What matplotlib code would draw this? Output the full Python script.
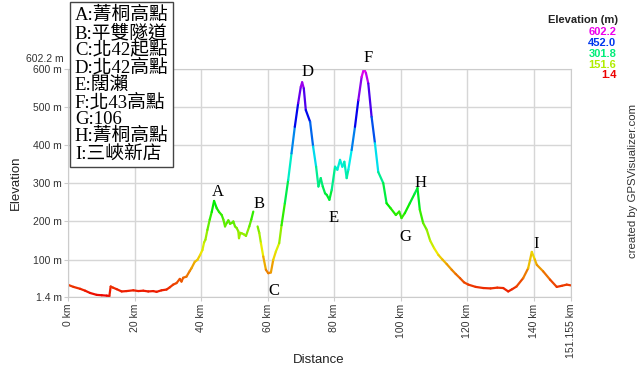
from pathlib import Path

import matplotlib.pyplot as plt
import numpy as np
from matplotlib.collections import LineCollection
from matplotlib.colors import ListedColormap, Normalize, hsv_to_rgb

# Perfil de elevación (km, m); el NaN marca el túnel sin datos.
dist_km = [
    0.0, 1.5, 3.5, 5.0, 6.5, 8.5, 10.0, 11.5, 12.3, 12.7, 13.4, 14.5, 16.0, 17.5,
    19.5, 21.0, 22.5, 24.0, 25.5, 26.5, 28.0, 29.5, 30.5, 31.5, 32.5, 33.5, 34.0,
    34.5, 35.5, 36.5, 37.0, 38.0, 38.8, 39.6, 40.3, 40.8, 41.2, 41.8, 42.5, 43.1,
    43.8, 44.6, 45.3, 46.1, 46.6, 47.1, 47.6, 48.1, 48.6, 49.1, 49.6, 50.1, 50.6,
    51.1, 51.3, 51.7, 52.1, 52.8, 53.4, 54.4, 55.0, 55.6, 56.2, 56.9, 57.4, 57.9,
    58.6, 59.4, 60.1, 60.9, 61.6, 62.4, 63.4, 64.1, 65.1, 66.1, 67.1, 68.1, 69.1,
    69.9, 70.3, 70.8, 71.4, 72.7, 73.6, 74.5, 75.2, 75.9, 76.5, 77.2, 77.7, 78.5,
    79.2, 80.2, 80.9, 81.7, 82.4, 83.0, 83.7, 84.2, 85.2, 86.2, 87.2, 88.2, 88.9,
    89.5, 90.2, 91.2, 92.2, 93.2, 94.7, 95.7, 96.9, 98.5, 99.5, 100.2, 101.2, 102.7,
    104.2, 105.0, 105.7, 106.7, 107.8, 108.8, 110.0, 111.3, 112.5, 113.8, 115.3,
    116.5, 117.8, 119.0, 120.3, 122.5, 124.8, 127.0, 129.0, 130.8, 132.3, 133.5,
    134.8, 136.8, 138.3, 139.4, 140.3, 140.9, 142.8, 144.9, 146.9, 148.5, 149.9,
    151.155,
]
elev_m = [
    33, 28, 23, 18, 12, 7, 6, 5, 4, 29, 26, 22, 16, 17,
    19, 17, 18, 16, 17, 15, 19, 21, 27, 34, 38, 49, 42,
    52, 55, 70, 77, 94, 99, 112, 125, 145, 152, 178, 205, 225,
    254, 235, 225, 217, 205, 187, 196, 203, 194, 196, 200, 187, 183,
    174, 156, 170, 169, 166, 162, 187, 205, 226, np.nan, 187, 170, 143,
    108, 73, 64, 66, 99, 121, 143, 190, 248, 309, 379, 449, 511,
    554, 566, 550, 493, 462, 397, 344, 292, 314, 292, 274, 270, 257,
    283, 344, 336, 362, 344, 357, 314, 336, 388, 449, 519, 580, 602,
    590, 563, 475, 406, 330, 301, 248, 235, 217, 226, 209, 222, 248,
    274, 288, 231, 196, 178, 150, 130, 112, 100, 88, 73,
    62, 51, 40, 34, 28, 25, 24, 26, 25, 16, 22,
    29, 51, 77, 120, 100, 86, 69, 47, 28, 31, 34,
    32,
]

# Límites del perfil y marcas de los ejes.
elev_min = 1.4
elev_max = 602.2
dist_max = 151.155
x_ticks_km = [0, 20, 40, 60, 80, 100, 120, 140, 151.155]
x_tick_labels = ["0 km", "20 km", "40 km", "60 km", "80 km", "100 km", "120 km", "140 km", "151.155 km"]
y_ticks_m = [1.4, 100, 200, 300, 400, 500, 600]
y_tick_labels = ["1.4 m", "100 m", "200 m", "300 m", "400 m", "500 m", "600 m"]

# Puntos de referencia marcados con letras sobre el perfil.
waypoint_letters = ["A", "B", "C", "D", "E", "F", "G", "H", "I"]
waypoint_names = ["菁桐高點", "平雙隧道", "北42起點", "北42高點", "闊瀨", "北43高點", "106", "菁桐高點", "三峽新店"]
waypoint_km = [45.0, 57.3, 61.8, 71.8, 79.9, 90.1, 101.4, 106.0, 140.6]
waypoint_elev = [278, 246, 18, 593, 210, 630, 160, 301, 141]

serif_fonts = ["Liberation Serif", "Noto Sans CJK TC"]
plt.rcParams["font.family"] = ["Liberation Sans", "DejaVu Sans"]

# Paleta tipo GPSVisualizer: tono de rojo (0°) a magenta (300°).
hues = np.linspace(0, 300 / 360, 256)
hsv = np.column_stack([hues, np.ones_like(hues), np.full_like(hues, 0.93)])
elev_cmap = ListedColormap(hsv_to_rgb(hsv))
norm = Normalize(elev_min, elev_max)

fig = plt.figure(figsize=(6.4, 3.66), dpi=100)
ax = fig.add_axes([0.107, 0.1885, 0.785, 0.6243])

# Se construyen los segmentos coloreados según la elevación media.
x = np.asarray(dist_km, dtype=float)
y = np.asarray(elev_m, dtype=float)
points = np.column_stack([x, y])
segments = np.stack([points[:-1], points[1:]], axis=1)
valid = ~np.isnan(segments).any(axis=(1, 2))
segments = segments[valid]
seg_elev = segments[:, :, 1].mean(axis=1)
lc = LineCollection(segments, colors=elev_cmap(norm(seg_elev)), linewidths=1.6, capstyle="round", joinstyle="round")
ax.add_collection(lc)

ax.set_xlim(0, dist_max)
ax.set_ylim(elev_min, elev_max)
ax.set_xticks(x_ticks_km)
ax.set_xticklabels(x_tick_labels, rotation=90, fontsize=7.5, color="#333333")
ax.set_yticks(y_ticks_m)
ax.set_yticklabels(y_tick_labels, fontsize=7.5, color="#333333")
ax.tick_params(length=3, color="#cccccc", pad=2)
ax.grid(color="#d6d6d6", linewidth=1)
ax.set_axisbelow(True)
for spine in ax.spines.values():
    spine.set_color("#cccccc")

# Etiqueta del máximo, desplazada para no pisar la de 600 m.
ax.annotate("602.2 m", xy=(0, elev_max), xycoords="data", xytext=(-5, 10),
            textcoords="offset pixels", ha="right", va="center", fontsize=7.5, color="#333333")

# Rótulos de los ejes colocados a mano, como en la imagen original.
fig.text(0.498, 0.017, "Distance", ha="center", va="center", fontsize=9.5, color="#222222")
ax.set_ylabel("Elevation", fontsize=9.5, color="#222222", labelpad=8)

# Letras de los puntos de referencia.
for letter, km, elev in zip(waypoint_letters, waypoint_km, waypoint_elev):
    ax.text(km, elev, letter, ha="center", va="center", fontsize=12, family=serif_fonts, color="black")

# Recuadro con la lista de puntos de referencia.
box_lines = [f"{letter}:{name}" for letter, name in zip(waypoint_letters, waypoint_names)]
fig.text(0.117, 0.981, "\n".join(box_lines), ha="left", va="top", fontsize=13.5,
         family=serif_fonts, linespacing=0.99,
         bbox=dict(facecolor="white", edgecolor="#444444", linewidth=1, boxstyle="square,pad=0.25"))

# Leyenda de colores de elevación.
fig.text(0.965, 0.945, "Elevation (m)", ha="right", va="center", fontsize=8, fontweight="bold", color="#222222")
legend_values = np.linspace(elev_min, elev_max, 5)[::-1]
for i, value in enumerate(legend_values):
    fig.text(0.963, 0.912 - i * 0.0295, f"{value:.1f}", ha="right", va="center", fontsize=8,
             fontweight="bold", color=elev_cmap(norm(value)))

fig.text(0.989, 0.295, "created by GPSVisualizer.com", rotation=90, ha="center", va="bottom",
         fontsize=8.2, color="#333333")

fig.savefig(Path("out.png"), dpi=100)
plt.close(fig)
